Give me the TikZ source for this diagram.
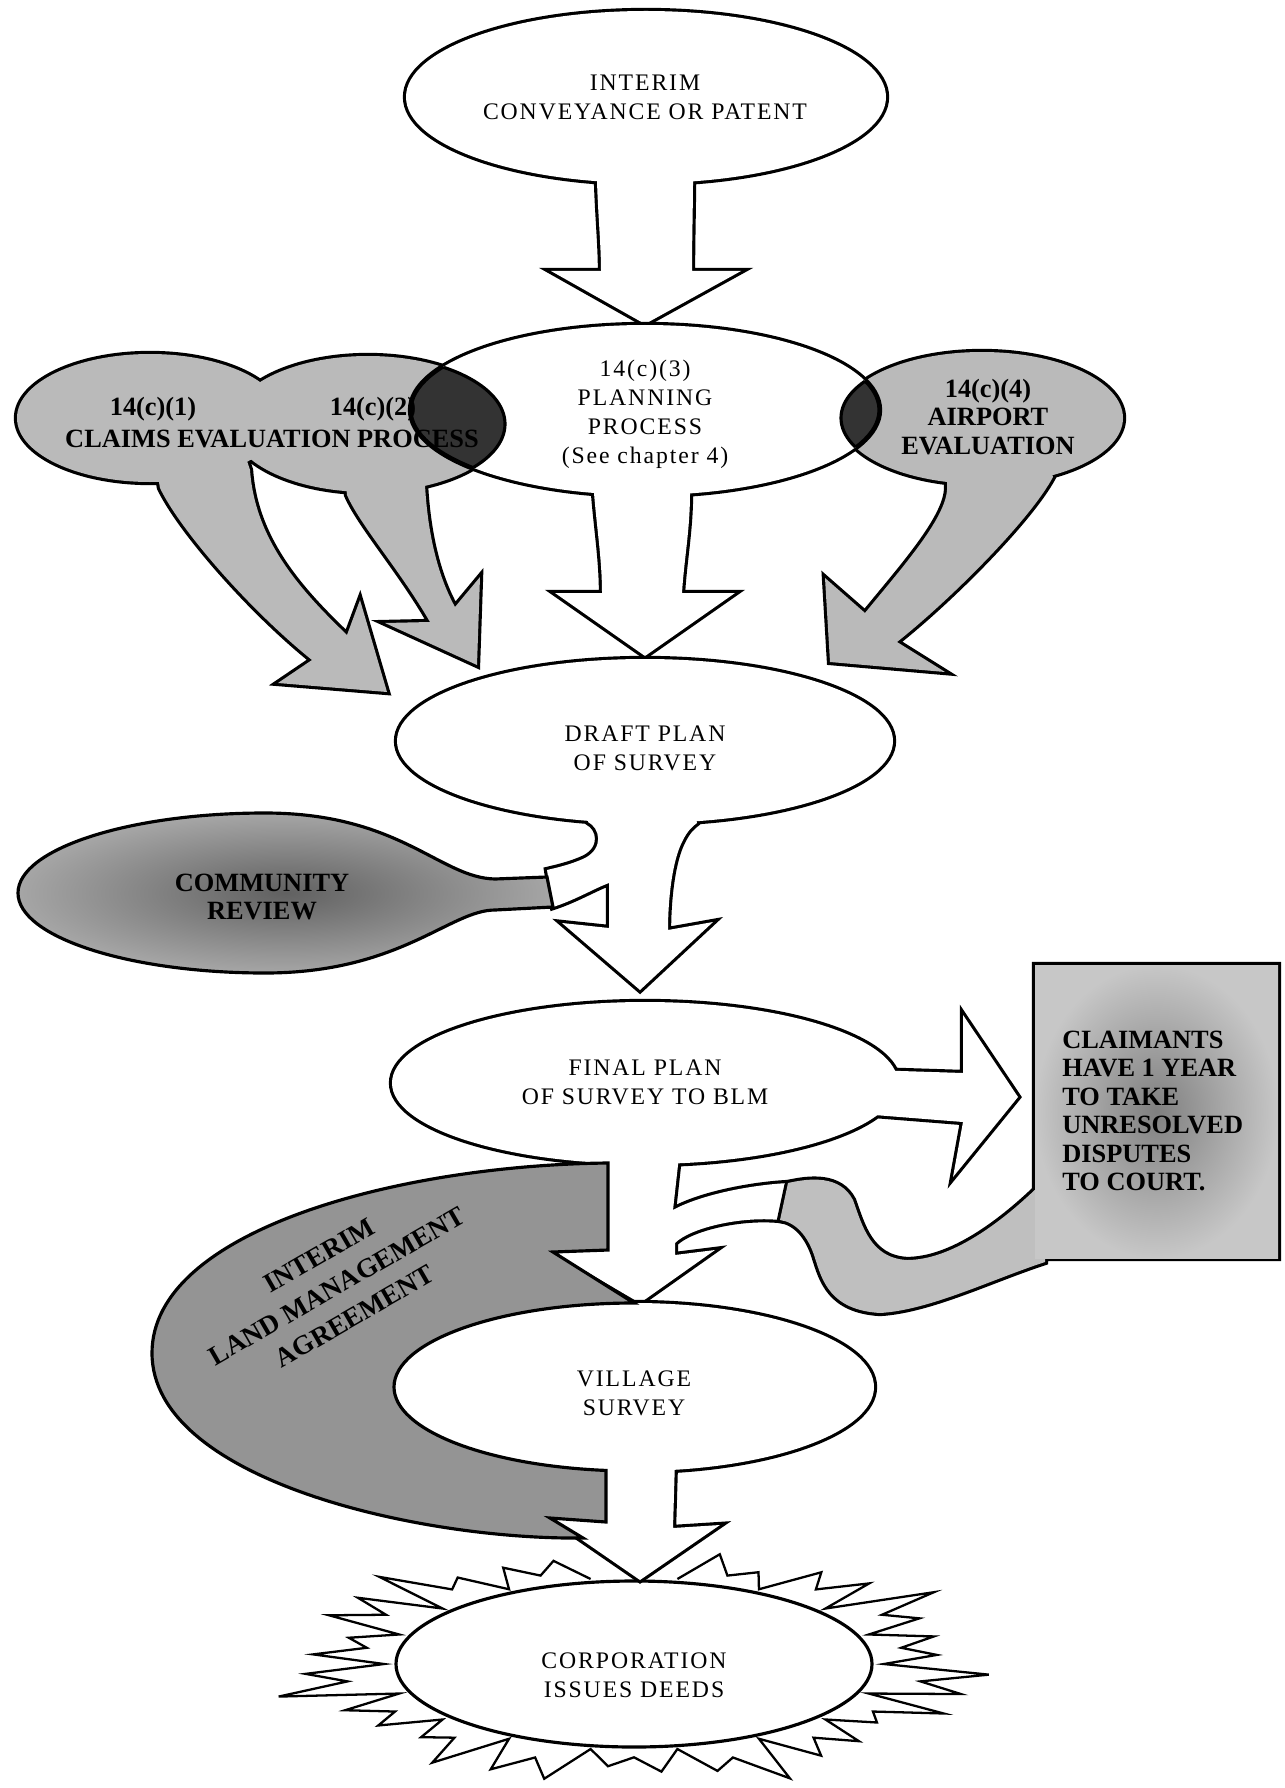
\documentclass[tikz,border=0pt]{standalone}
\usepackage{fontspec}
\setmainfont{Liberation Serif}
\newfontfamily\spacedfont[LetterSpace=8]{Liberation Serif}

\begin{document}
\begin{tikzpicture}[x=0.2mm,y=-0.2mm,
  rim/.style={line width=3.6pt},
  edge/.style={line width=1.8pt},
  plainlab/.style={inner sep=0pt,align=center,font=\spacedfont\fontsize{13.5}{16.5}\selectfont},
  boldlab/.style={inner sep=0pt,align=center,font=\bfseries\fontsize{15}{16.2}\selectfont},
  declare function={zk(\t)=mod(round((\t+80)/5),4);
    zf(\k)=2.725*\k-2.175*\k*\k+0.45*\k*\k*\k;
    zz(\t)=zf(zk(\t))*(0.75+0.25*sin(7*\t));}]
\useasboundingbox (0,0) rectangle (1284,1788);

\def\ellTop{(646,97) ellipse [x radius=240, y radius=86]}
\def\arrTop{(598,170) -- (597,181) .. controls (598,215) and (601,245) .. (601,271) -- (551,271) -- (645,324) -- (741,271) -- (692,271) .. controls (692,240) and (693,205) .. (693,181) -- (692,170) -- cycle}
\def\ellPlan{(645,410) ellipse [x radius=234, y radius=85]}
\def\arrPlan{(596,480) -- (594,493) .. controls (597,530) and (602,560) .. (602,593) -- (555,593) -- (645,656) -- (735,593) -- (682,593) .. controls (684,560) and (690,530) .. (690,493) -- (688,480) -- cycle}
\def\blobA{(150,418) ellipse [x radius=133, y radius=64]}
\def\blobB{(368,424) ellipse [x radius=137, y radius=68]}
\def\arrA{(156,465) -- (160,488) .. controls (180,530) and (250,610) .. (312,660) -- (278,683) -- (387,692) -- (360,600) -- (347,635) .. controls (300,590) and (255,540) .. (250,470) -- (245,455) -- cycle}
\def\arrB{(345,475) -- (347,495) .. controls (360,525) and (400,570) .. (430,622) -- (385,623) -- (477,665) -- (480,577) -- (455,607) .. controls (440,580) and (428,540) .. (425,485) -- (425,470) -- cycle}
\def\blobC{(982,418) ellipse [x radius=141, y radius=66]}
\def\arrC{(947,478) -- (947,490) .. controls (945,520) and (900,570) .. (865,613) -- (825,578) -- (830,662) -- (945,672) -- (897,642) .. controls (950,600) and (1030,520) .. (1053,477) -- (1050,468) -- cycle}
\def\ellDraft{(645,741) ellipse [x radius=248, y radius=82]}
\def\arrDraft{(590,812) -- (588,822) .. controls (600,828) and (604,848) .. (585,858) .. controls (570,865) and (555,868) .. (547,870) -- (553,907) .. controls (575,900) and (595,888) .. (609,883) -- (609,928) -- (562,923) -- (640,990) -- (713,922) -- (668,930) .. controls (668,900) and (672,860) .. (683,840) .. controls (688,830) and (693,826) .. (697,823) -- (695,812) -- cycle}
\def\commBlob{(547,877) -- (495,879) .. controls (440,878) and (400,813) .. (265,813) .. controls (129,813) and (18,849) .. (18,893) .. controls (18,937) and (129,973) .. (265,973) .. controls (400,973) and (450,910) .. (495,910) -- (553,907) -- cycle}
\def\ellFinal{(645,1083) ellipse [x radius=253, y radius=81]}
\def\arrDown{(607,1150) -- (607,1250) -- (553,1252) -- (640,1303) -- (715,1250) -- (675,1255) -- (675,1243) .. controls (690,1228) and (740,1216) .. (780,1220) -- (788,1183) .. controls (750,1185) and (700,1195) .. (673,1210) -- (678,1165) -- (678,1150) -- cycle}
\def\arrRight{(778,1025) -- (780,1016) .. controls (820,1030) and (840,1068) .. (870,1070) -- (963,1073) -- (963,1015) -- (1018,1097) -- (953,1177) -- (963,1122) -- (862,1114) -- (850,1118) -- cycle}
\def\tail{(788,1183) .. controls (810,1178) and (840,1175) .. (853,1200) .. controls (862,1225) and (870,1258) .. (907,1260) .. controls (950,1260) and (1000,1225) .. (1045,1180) -- (1045,1262) .. controls (990,1280) and (930,1310) .. (880,1313) .. controls (830,1310) and (822,1280) .. (815,1258) .. controls (808,1235) and (795,1222) .. (780,1220) -- cycle}
\def\court{(1035,965) rectangle (1278,1258)}
\def\ellVil{(634,1387) ellipse [x radius=240, y radius=84]}
\def\arrVil{(606,1460) -- (606,1522) -- (550,1518) -- (640,1580) -- (720,1525) -- (673,1528) -- (675,1460) -- cycle}
\def\ellCorp{(634,1664) ellipse [x radius=238, y radius=83]}
\def\shoe{(608,1163) -- (608,1250) -- (553,1252) -- (634,1303) arc[start angle=270, end angle=96.7, x radius=240, y radius=84] -- (606,1522) -- (550,1518) -- (583,1538) .. controls (420,1540) and (152,1480) .. (152,1353) .. controls (152,1230) and (400,1165) .. (608,1163) -- cycle}

% sunburst round the deeds
\draw[line width=1.3pt] plot[domain=-80:260, samples=69, variable=\x]
  ({634+238*(1.05+0.5*zz(\x))*cos(\x)}, {1664+83*(1.04+0.48*zz(\x))*sin(\x)});
\draw[edge, fill=white] \ellCorp;

% 14(c) processes
\draw[rim] \blobA \blobB \arrA \arrB;
\fill[black!27] \blobA; \fill[black!27] \blobB; \fill[black!27] \arrA; \fill[black!27] \arrB;
\draw[rim] \blobC \arrC;
\fill[black!27] \blobC; \fill[black!27] \arrC;

\draw[rim] \ellTop \arrTop;
\fill[white] \ellTop; \fill[white] \arrTop;
\draw[rim] \ellPlan \arrPlan;
\fill[white] \ellPlan; \fill[white] \arrPlan;

\begin{scope}
  \clip \blobB; \fill[black!80] \ellPlan; \draw[edge] \ellPlan;
\end{scope}
\begin{scope}
  \clip \ellPlan; \draw[edge] \blobB;
\end{scope}
\begin{scope}
  \clip \blobC; \fill[black!80] \ellPlan; \draw[edge] \ellPlan;
\end{scope}
\begin{scope}
  \clip \ellPlan; \draw[edge] \blobC;
\end{scope}

% draft plan and review
\draw[rim] \ellDraft \arrDraft;
\fill[white] \ellDraft; \fill[white] \arrDraft;
\shade[inner color=black!62, outer color=black!35] \commBlob;
\draw[edge] \commBlob;

% final plan, village survey
\draw[rim] \ellFinal \arrDown \arrRight;
\fill[white] \ellFinal; \fill[white] \arrDown; \fill[white] \arrRight;
\draw[rim] \ellVil \arrVil;
\fill[white] \ellVil; \fill[white] \arrVil;

\draw[rim] \tail \court;
\fill[black!25] \tail;
\shade[inner color=black!50, outer color=black!22] \court;

\fill[black!42] \shoe;
\draw[edge] \shoe;

% labels
\node[plainlab] (interim) at (645,97) {INTERIM\\CONVEYANCE OR PATENT};
\node[plainlab] (planning) at (645,414) {14(c)(3)\\PLANNING\\PROCESS\\(See chapter 4)};
\node[plainlab] (draft) at (645,748) {DRAFT PLAN\\OF SURVEY};
\node[plainlab] (final) at (645,1082) {FINAL PLAN\\OF SURVEY TO BLM};
\node[plainlab] (village) at (634,1393) {VILLAGE\\SURVEY};
\node[plainlab] (corp) at (634,1675) {CORPORATION\\ISSUES DEEDS};
\node[boldlab] (claim1) at (153,409) {14(c)(1)};
\node[boldlab] (claim2) at (373,409) {14(c)(2)};
\node[boldlab] (claims) at (272,439) {CLAIMS EVALUATION PROCESS};
\node[boldlab] (airport) at (988,417) {14(c)(4)\\AIRPORT\\EVALUATION};
\node[boldlab] (review) at (262,897) {COMMUNITY\\REVIEW};
\node[boldlab, align=left, anchor=west] (court) at (1062,1111) {CLAIMANTS\\HAVE 1 YEAR\\TO TAKE\\UNRESOLVED\\DISPUTES\\TO COURT.};
\node[boldlab, rotate=30, font=\bfseries\fontsize{15.5}{20}\selectfont] (ilma) at (337,1286) {INTERIM\\LAND MANAGEMENT\\AGREEMENT};
\end{tikzpicture}
\end{document}
